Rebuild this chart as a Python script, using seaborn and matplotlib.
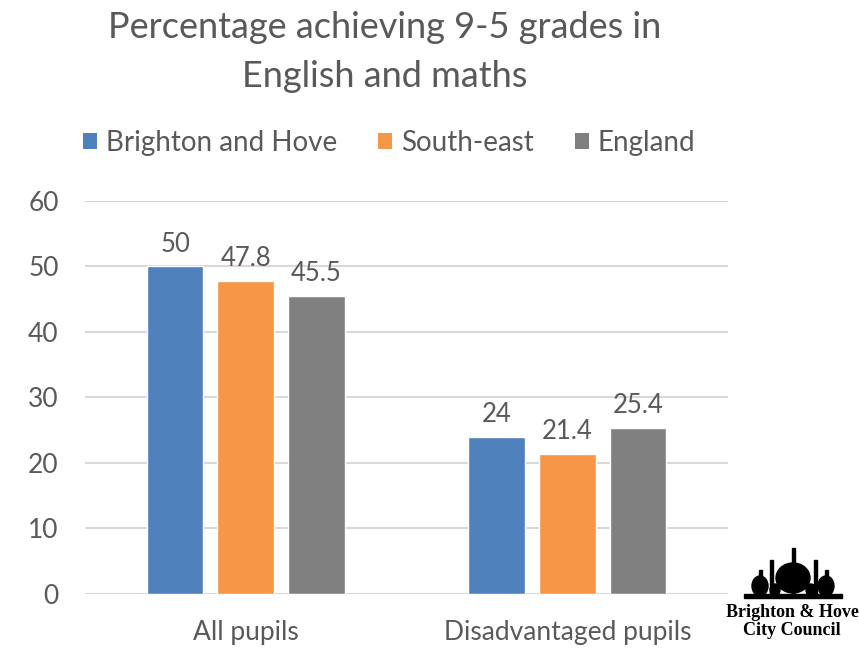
import matplotlib
matplotlib.use("Agg")
import matplotlib.pyplot as plt
import seaborn as sns
import pandas as pd
from matplotlib.patches import Patch, Ellipse, Rectangle

categories = ["All pupils", "Disadvantaged pupils"]
series = ["Brighton and Hove", "South-east", "England"]
brighton = [50, 24]
south_east = [47.8, 21.4]
england = [45.5, 25.4]
yticks = [0, 10, 20, 30, 40, 50, 60]
colors = ["#4F81BD", "#F79646", "#808080"]

rows = []
for s, vals in zip(series, [brighton, south_east, england]):
    for c, v in zip(categories, vals):
        rows.append({"cat": c, "series": s, "value": v})
df = pd.DataFrame(rows)

sns.set_theme(style="white")
plt.rcParams['font.family'] = ['Lato', 'DejaVu Sans']
text_color = "#595959"

fig = plt.figure(figsize=(8.59, 6.5), dpi=100)
ax = fig.add_axes([0.099, 0.0862, 0.7485, 0.6046])

sns.barplot(data=df, x="cat", y="value", hue="series", palette=colors,
            order=categories, hue_order=series, width=0.66, gap=0.2,
            saturation=1, ax=ax, legend=False)

ax.set_ylim(0, 60)
ax.set_yticks(yticks)
ax.yaxis.grid(True, color="#D9D9D9", linewidth=1.5)
ax.set_axisbelow(True)
for sp in ax.spines.values():
    sp.set_visible(False)
ax.set_xlabel("")
ax.set_ylabel("")
ax.tick_params(axis="both", length=0, labelsize=19, colors=text_color)
ax.tick_params(axis="x", pad=19)
ax.tick_params(axis="y", pad=19)

for cont in ax.containers:
    labels = [f"{v:g}" for v in cont.datavalues]
    ax.bar_label(cont, labels=labels, padding=7, fontsize=18.5, color=text_color)

fig.text(0.448, 0.957, "Percentage achieving 9-5 grades in", ha="center", va="center",
         fontsize=26, color=text_color)
fig.text(0.448, 0.883, "English and maths", ha="center", va="center",
         fontsize=26, color=text_color)

handles = [Patch(facecolor=c, edgecolor='none') for c in colors]
fig.legend(handles, series, loc="center", bbox_to_anchor=(0.453, 0.78), ncol=3,
           frameon=False, fontsize=20, handlelength=0.5, handleheight=0.5,
           handletextpad=0.3, columnspacing=1.5, labelcolor=text_color)

# council logo (decorative)
W, H = 859.0, 650.0
def fx(px): return px / W
def fy(py): return 1 - py / H
fig.patches.append(Rectangle((fx(744), fy(598)), fx(842) - fx(744), 4 / H,
                             transform=fig.transFigure, color="black"))
for cx, cy, w, h in [(793, 578, 34, 30), (760, 586, 16, 20), (826, 586, 16, 20),
                     (775, 590, 10, 12), (811, 590, 10, 12)]:
    fig.patches.append(Ellipse((fx(cx), fy(cy)), w / W, h / H,
                               transform=fig.transFigure, color="black"))
for mx, top in [(793, 548), (760, 570), (826, 570), (771, 560), (815, 560)]:
    fig.patches.append(Rectangle((fx(mx) - 1.5 / W, fy(597)), 3 / W, fy(top) - fy(597),
                                 transform=fig.transFigure, color="black"))

fig.text(0.922, 0.044, "Brighton & Hove\nCity Council", ha="center", va="center",
         fontsize=13, fontweight="bold", family=["Liberation Serif", "DejaVu Serif"],
         color="black", linespacing=1.05)

fig.savefig("out.png", dpi=100)
